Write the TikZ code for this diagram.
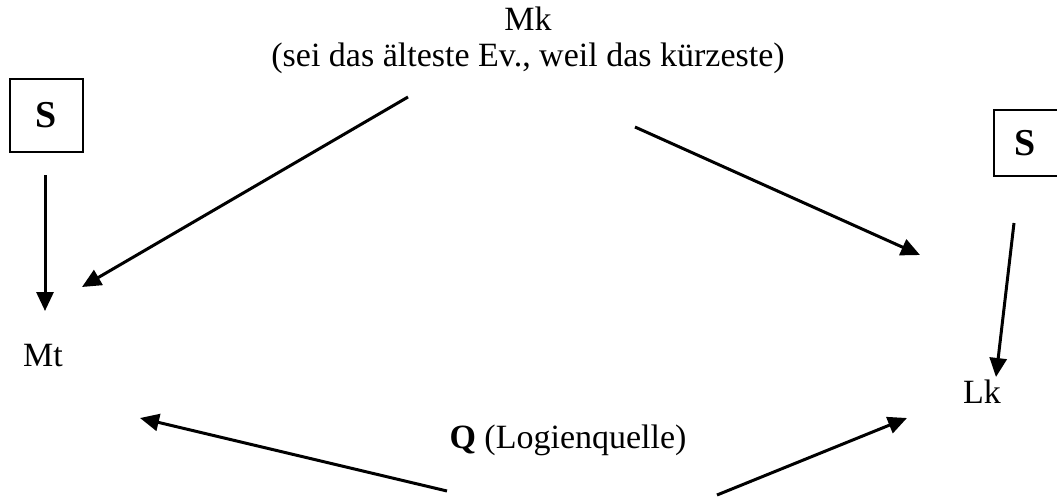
\documentclass[tikz,border=0pt]{standalone}
\usepackage{fontspec}
\setmainfont{Liberation Serif}
\usetikzlibrary{arrows.meta}
\begin{document}
\begin{tikzpicture}[x=1pt,y=-1pt,
  lbl/.style={inner sep=0pt,font=\fontsize{34}{36}\selectfont},
  sbox/.style={draw,line width=1.6pt,inner sep=0pt,font=\fontsize{38}{40}\selectfont\bfseries},
  arr/.style={line width=3pt,-{Triangle[length=19pt,width=17pt]}}]
\useasboundingbox (0,0) rectangle (1057,496);

% sources and gospels
\node[lbl,align=center] (mk) at (528,40) {Mk\\(sei das älteste Ev., weil das kürzeste)};
\node[lbl] (mt) at (43,356) {Mt};
\node[lbl] (lk) at (982,392) {Lk};
\node[lbl] (q) at (568,440) {\textbf{Q} (Logienquelle)};
\node[sbox,minimum width=73pt,minimum height=73pt] (s1) at (46.5,115.5) {S};
\begin{scope}
  \clip (0,0) rectangle (1057,496);
  \node[sbox,minimum width=70pt,minimum height=66pt,text width=62pt,align=left] (s2) at (1029,143) {\hspace*{16pt}S};
\end{scope}

% connector end points
\coordinate (s1b) at (45,175);
\coordinate (mtR) at (82,287);
\coordinate (mtT) at (45,311);
\coordinate (mtB) at (140,418);
\coordinate (mkL) at (408,97);
\coordinate (mkR) at (635,127);
\coordinate (lkT) at (920,255);
\coordinate (lkB) at (907,418);
\coordinate (s2b) at (1014,223);
\coordinate (lkS) at (996,377);
\coordinate (qL) at (447,491);
\coordinate (qR) at (717,495);

\draw[arr] (s1b) -- (mtT);
\draw[arr] (mkL) -- (mtR);
\draw[arr] (mkR) -- (lkT);
\draw[arr] (s2b) -- (lkS);
\draw[arr] (qL) -- (mtB);
\draw[arr] (qR) -- (lkB);
\end{tikzpicture}
\end{document}
